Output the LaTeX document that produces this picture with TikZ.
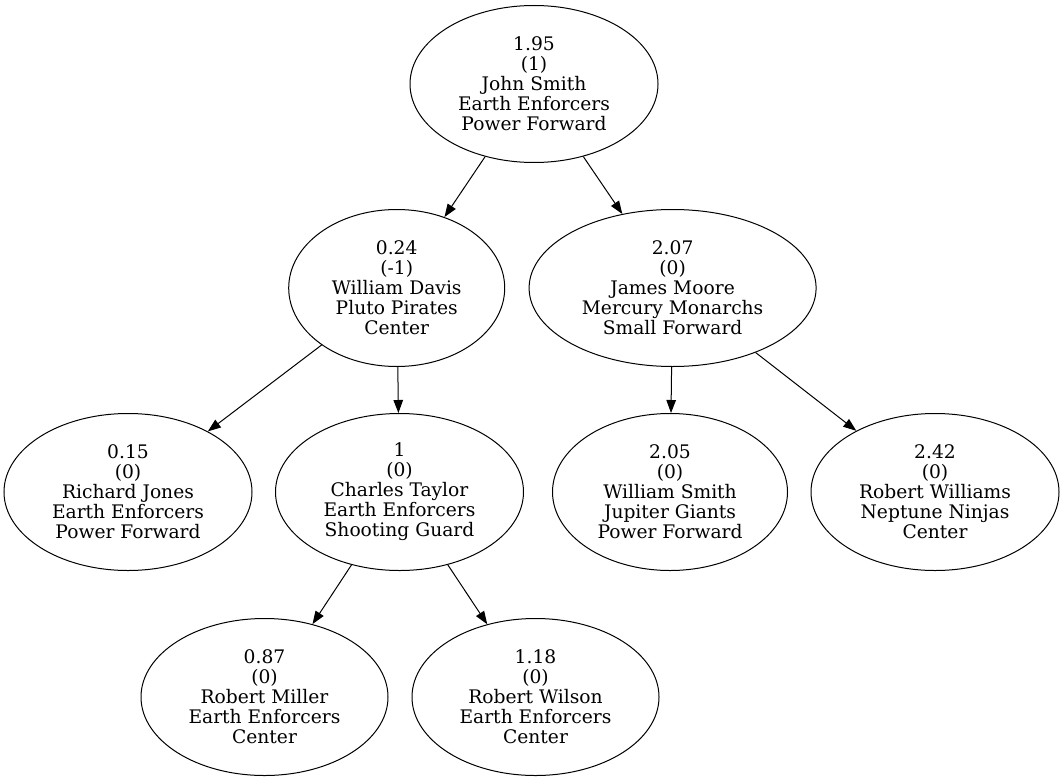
\documentclass[tikz,border=0pt]{standalone}
\usepackage{fontspec}
\setmainfont{DejaVu Serif}
\usetikzlibrary{shapes.geometric,arrows.meta}
\begin{document}
\begin{tikzpicture}[x=1pt,y=-1pt,
  player/.style={ellipse,draw,line width=1pt,inner sep=0pt,minimum height=157pt,align=center,
    font=\fontsize{18.67}{20}\selectfont},
  edge/.style={line width=1pt,-{Triangle[length=13pt,width=9.5pt]}}]
\useasboundingbox (0,0) rectangle (1064,781);
\node[player,minimum width=248pt] (root) at (534,84) {1.95\\(1)\\John Smith\\Earth Enforcers\\Power Forward};
\node[player,minimum width=216pt] (wd) at (396.7,288) {0.24\\(-1)\\William Davis\\Pluto Pirates\\Center};
\node[player,minimum width=287pt] (jm) at (672.6,288) {2.07\\(0)\\James Moore\\Mercury Monarchs\\Small Forward};
\node[player,minimum width=248pt] (rj) at (128,492) {0.15\\(0)\\Richard Jones\\Earth Enforcers\\Power Forward};
\node[player,minimum width=248pt] (ct) at (399.5,492) {1\\(0)\\Charles Taylor\\Earth Enforcers\\Shooting Guard};
\node[player,minimum width=235pt] (ws) at (670,492) {2.05\\(0)\\William Smith\\Jupiter Giants\\Power Forward};
\node[player,minimum width=248pt] (rw) at (935,492) {2.42\\(0)\\Robert Williams\\Neptune Ninjas\\Center};
\node[player,minimum width=247pt] (rm) at (264.5,697) {0.87\\(0)\\Robert Miller\\Earth Enforcers\\Center};
\node[player,minimum width=247pt] (rwil) at (535.5,697) {1.18\\(0)\\Robert Wilson\\Earth Enforcers\\Center};
\draw[edge] (root) -- (wd);
\draw[edge] (root) -- (jm);
\draw[edge] (wd) -- (rj);
\draw[edge] (wd) -- (ct);
\draw[edge] (jm) -- (ws);
\draw[edge] (jm) -- (rw);
\draw[edge] (ct) -- (rm);
\draw[edge] (ct) -- (rwil);
\end{tikzpicture}
\end{document}
